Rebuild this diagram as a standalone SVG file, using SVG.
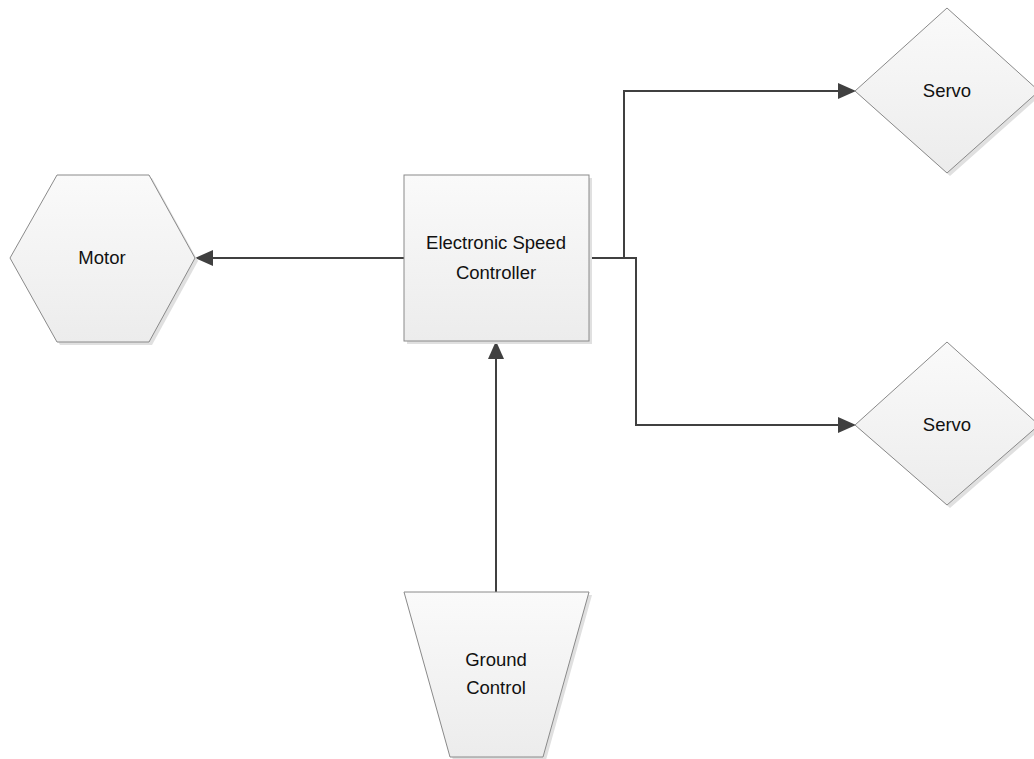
<svg xmlns="http://www.w3.org/2000/svg" width="1034" height="759" viewBox="0 0 1034 759">
  <defs>
    <linearGradient id="fillGrad" x1="0" y1="0" x2="0" y2="1">
      <stop offset="0" stop-color="#fafafa"/>
      <stop offset="1" stop-color="#ececec"/>
    </linearGradient>
  </defs>
  <style>
    .shape { fill: url(#fillGrad); stroke: #8a8a8a; stroke-width: 1; }
    .shadow { fill: #e0e0e0; stroke: none; }
    .label { font-family: "Liberation Sans", Arial, sans-serif; font-size: 18.5px; fill: #111111; text-anchor: middle; }
    .wire { fill: none; stroke: #404040; stroke-width: 2; }
    .head { fill: #404040; }
  </style>
  <rect width="1034" height="759" fill="#ffffff"/>

  <g id="connectors">
    <path class="wire" d="M404,258 L205,258"/>
    <path class="wire" d="M496,592 L496,350"/>
    <path class="wire" d="M589,258 L624,258 L624,91 L846,91"/>
    <path class="wire" d="M589,258 L636,258 L636,425 L846,425"/>
    <!-- arrowheads -->
    <polygon class="head" points="195,258 213,250 213,266"/>
    <polygon class="head" points="496,341 488,359 504,359"/>
    <polygon class="head" points="856,91 838,83 838,99"/>
    <polygon class="head" points="856,425 838,417 838,433"/>
  </g>

  <g id="motor">
    <polygon class="shadow" points="13,261 60,178 152,178 198,261 152,345 60,345"/>
    <polygon class="shape" points="10,258 57,175 149,175 195,258 149,342 57,342"/>
    <text class="label" x="102" y="264">Motor</text>
  </g>

  <g id="esc">
    <rect class="shadow" x="407" y="178" width="185" height="166"/>
    <rect class="shape" x="404" y="175" width="185" height="166"/>
    <text class="label" x="496" y="249">Electronic Speed</text>
    <text class="label" x="496" y="279">Controller</text>
  </g>

  <g id="servo-top">
    <polygon class="shadow" points="858,94 950,11 1042,94 950,176"/>
    <polygon class="shape" points="855,91 947,8 1039,91 947,173"/>
    <text class="label" x="947" y="97">Servo</text>
  </g>

  <g id="servo-bottom">
    <polygon class="shadow" points="858,428 950,345 1042,428 950,508"/>
    <polygon class="shape" points="855,425 947,342 1039,425 947,505"/>
    <text class="label" x="947" y="431">Servo</text>
  </g>

  <g id="ground-control">
    <polygon class="shadow" points="407,595 592,595 546,760 453,760"/>
    <polygon class="shape" points="404,592 589,592 543,757 450,757"/>
    <text class="label" x="496" y="666">Ground</text>
    <text class="label" x="496" y="694">Control</text>
  </g>
</svg>
